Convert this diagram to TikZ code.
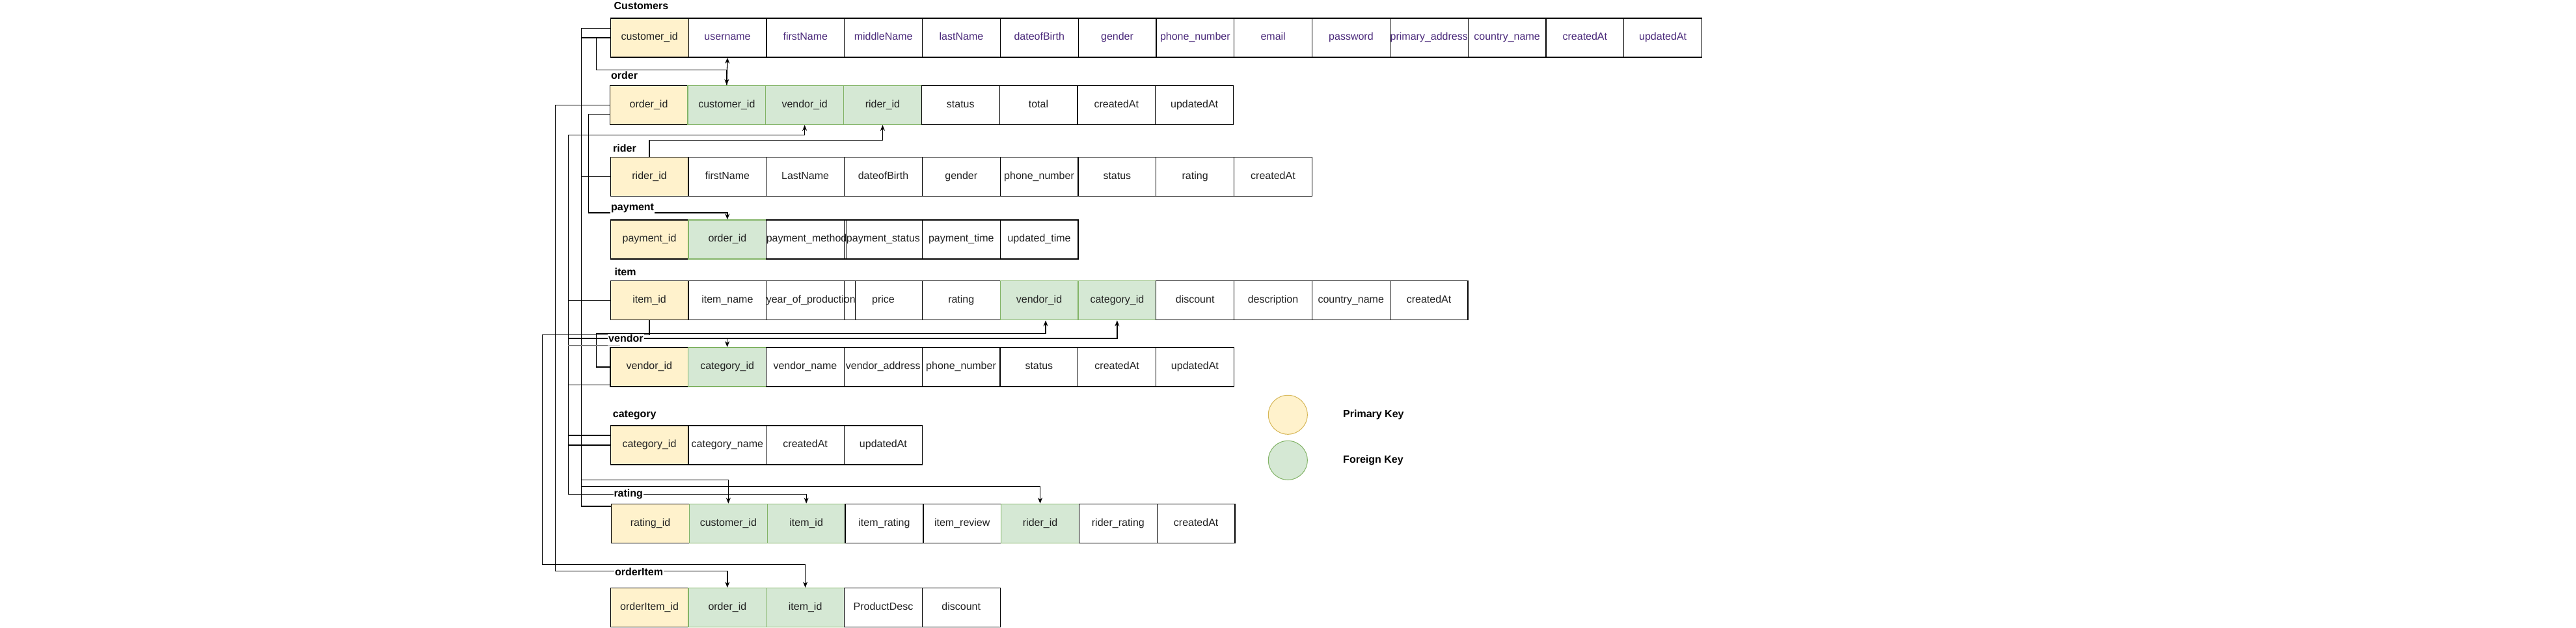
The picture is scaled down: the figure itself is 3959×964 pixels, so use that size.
\documentclass[tikz,border=0pt]{standalone}
\usepackage{fontspec}
\setmainfont{Liberation Sans}
\usetikzlibrary{arrows.meta}
\definecolor{pkfill}{HTML}{FFF2CC}
\definecolor{pkdraw}{HTML}{D6B656}
\definecolor{fkfill}{HTML}{D5E8D4}
\definecolor{fkdraw}{HTML}{82B366}
\definecolor{purp}{HTML}{4B2A7B}
\definecolor{txt}{HTML}{222222}
\newcommand\erow[4]{\foreach \t/\s [count=\i] in {#4}{\node[cell,kind/.expanded=\s,anchor=north west] (#1-\i) at ({#2+(\i-1)*119.8},#3) {\t};}}
\begin{document}
\begin{tikzpicture}[x=1pt,y=-1pt,
  cell/.style={draw=black,line width=1.3pt,minimum width=119.8pt,minimum height=60pt,inner sep=0pt,text height=11.5pt,text depth=3.5pt,text=txt,font=\fontsize{16}{19}\selectfont},
  pk/.style={fill=pkfill},
  fk/.style={fill=fkfill,draw=fkdraw},
  pu/.style={text=purp},
  nk/.style={},
  kind/.style={#1},
  ttl/.style={font=\bfseries\fontsize{16}{19}\selectfont,fill=white,inner sep=1pt,text height=11.5pt,text depth=3.5pt,anchor=west,text=black},
  conn/.style={line width=1.3pt,draw=black},
  arr/.style={conn,-{Stealth[length=9pt,width=7pt]}}]
\useasboundingbox[fill=white] (0,0) rectangle (3959,964);

% tables
\erow{cus}{937.7}{27.3}{customer\_id/pk, username/pu, firstName/pu, middleName/pu, lastName/pu, dateofBirth/pu, gender/pu, phone\_number/pu, email/pu, password/pu, primary\_address/pu, country\_name/pu, createdAt/pu, updatedAt/pu}
\erow{ord}{936.5}{130.7}{order\_id/pk, customer\_id/fk, vendor\_id/fk, rider\_id/fk, status/nk, total/nk, createdAt/nk, updatedAt/nk}
\erow{rid}{937.5}{240.7}{rider\_id/pk, firstName/nk, LastName/nk, dateofBirth/nk, gender/nk, phone\_number/nk, status/nk, rating/nk, createdAt/nk}
\erow{pay}{937.5}{337.3}{payment\_id/pk, order\_id/fk, payment\_method/nk, payment\_status/nk, payment\_time/nk, updated\_time/nk}
\erow{itm}{937.5}{431}{item\_id/pk, item\_name/nk, year\_of\_production/nk, price/nk, rating/nk, vendor\_id/fk, category\_id/fk, discount/nk, description/nk, country\_name/nk, createdAt/nk}
\erow{ven}{937.3}{533.3}{vendor\_id/pk, category\_id/fk, vendor\_name/nk, vendor\_address/nk, phone\_number/nk, status/nk, createdAt/nk, updatedAt/nk}
\erow{cat}{937.5}{653.3}{category\_id/pk, category\_name/nk, createdAt/nk, updatedAt/nk}
\erow{rat}{939}{773.7}{rating\_id/pk, customer\_id/fk, item\_id/fk, item\_rating/nk, item\_review/nk, rider\_id/fk, rider\_rating/nk, createdAt/nk}
\erow{oi}{937.5}{903}{orderItem\_id/pk, order\_id/fk, item\_id/fk, ProductDesc/nk, discount/nk}

% connectors
\draw[arr] ([yshift=14.6pt]cus-1.west) -| (893.3,737.3) -| (rat-2.north);
\draw[conn] (cus-1.west) -- ++(-44.4,0);
\draw[arr] (cus-1.west) -| (916.7,107.3) -| (ord-2.north);
\draw[arr] (ord-2.north) -- (cus-2.south);
\draw[arr] (ord-1.west) -| (853.3,877.3) -| (oi-2.north);
\draw[arr] ([yshift=-14.3pt]ord-1.west) -| (904.4,327) -| (pay-2.north);
\draw[arr] ([yshift=-27.3pt]ven-1.west) -| (873.3,207.3) -| (ord-3.south);
\draw[arr] (rid-1.north) -- ++(0,-25) -| (ord-4.south);
\draw[arr] (rid-1.west) -| (893.3,747.7) -| (rat-6.north);
\draw[arr] (itm-1.west) -| (873.3,759.3) -| (rat-3.north);
\draw[arr] (itm-1.south) |- (833.3,514.3) -- (833.3,867.3) -| (oi-3.north);
\draw[arr] (ven-1.west) -| (916.7,512.7) -| ([xshift=10pt]itm-6.south);
\draw[arr] ([yshift=15pt]cat-1.west) -| (873.3,520) -| (itm-7.south);
\draw[arr] (cat-1.west) -| (873.3,520) -| (ven-2.north);
\draw[conn] ([yshift=26.4pt]rat-1.west) -| (893.3,737.3);
\draw[conn,draw=gray] (873.3,531) -- (953.3,531);

% titles
\node[ttl] (t-cus) at (942.4,10.7) {Customers};
\node[ttl] (t-ord) at (938,117.7) {order};
\node[ttl] (t-rid) at (941,229.3) {rider};
\node[ttl] (t-pay) at (938,319) {payment};
\node[ttl] (t-itm) at (943.5,419) {item};
\node[ttl,inner ysep=1.5pt] (t-ven) at (934,521.7) {vendor};
\node[ttl] (t-cat) at (940.7,637.7) {category};
\node[ttl,inner ysep=1pt] (t-rat) at (942.3,759.3) {rating};
\node[ttl,inner ysep=1pt] (t-oi) at (944,880.7) {orderItem};

% legend
\node[circle,minimum size=60pt,inner sep=0pt,fill=pkfill,draw=pkdraw,line width=1pt] (leg-pk) at (1979.3,637.3) {};
\node[circle,minimum size=60pt,inner sep=0pt,fill=fkfill,draw=fkdraw,line width=1pt] (leg-fk) at (1979.3,707.3) {};
\node[ttl,fill=none] (leg-pk-t) at (2063,637.3) {Primary Key};
\node[ttl,fill=none] (leg-fk-t) at (2063,707.3) {Foreign Key};
\end{tikzpicture}
\end{document}
